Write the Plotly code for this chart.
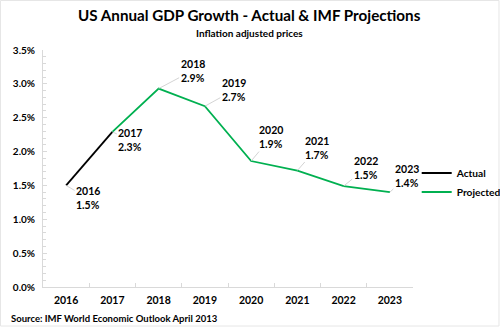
import plotly.graph_objects as go

years = ["2016", "2017", "2018", "2019", "2020", "2021", "2022", "2023"]
actual_years = ["2016", "2017"]
actual_vals = [1.50, 2.29]
proj_years = ["2017", "2018", "2019", "2020", "2021", "2022", "2023"]
proj_vals = [2.29, 2.93, 2.67, 1.86, 1.72, 1.49, 1.40]
label_vals = ["1.5%", "2.3%", "2.9%", "2.7%", "1.9%", "1.7%", "1.5%", "1.4%"]
all_vals = [1.50, 2.29, 2.93, 2.67, 1.86, 1.72, 1.49, 1.40]
label_offsets = [(22, 13), (18, 8), (34, -18), (29, -16), (20, -24), (20, -23), (22, -18), (17, -16)]

FONT = "Lato"
GREEN = "#00B050"

fig = go.Figure()
fig.add_trace(go.Scatter(x=proj_years, y=proj_vals, mode="lines", name="Projected",
                         line=dict(color=GREEN, width=1.8)))
fig.add_trace(go.Scatter(x=actual_years, y=actual_vals, mode="lines", name="Actual",
                         line=dict(color="black", width=1.8)))

annotations = []
for i, (yr, v, lab, (ax, ay)) in enumerate(zip(years, all_vals, label_vals, label_offsets)):
    annotations.append(dict(
        x=i, y=v, xref="x", yref="y", text=f"<b>{yr}<br>{lab}</b>", align="left",
        showarrow=True, arrowhead=0, arrowwidth=0.8, arrowcolor="#C8C8C8",
        ax=ax, ay=ay, standoff=0,
        font=dict(family=FONT, size=10.5, color="black")))

annotations.append(dict(text="<b>US Annual GDP Growth - Actual & IMF Projections</b>",
                        xref="paper", yref="paper", x=0.559, y=1, yanchor="middle", yshift=35,
                        showarrow=False, font=dict(family=FONT, size=15.2, color="black")))
annotations.append(dict(text="<b>Inflation adjusted prices</b>",
                        xref="paper", yref="paper", x=0.559, y=1, yanchor="middle", yshift=17,
                        showarrow=False, font=dict(family=FONT, size=10, color="black")))
annotations.append(dict(text="<b>Source: IMF World Economic Outlook April 2013</b>",
                        xref="paper", yref="paper", x=0, y=0, xanchor="left", yanchor="middle",
                        yshift=-31, xshift=-34,
                        showarrow=False, font=dict(family=FONT, size=9.5, color="black")))

fig.update_layout(
    width=500, height=327,
    margin=dict(l=43, r=87, t=50, b=40, autoexpand=False),
    paper_bgcolor="white", plot_bgcolor="white",
    font=dict(family=FONT, color="black"),
    showlegend=True,
    legend=dict(x=1.01, y=0.441, xanchor="left", yanchor="middle",
                traceorder="reversed", bgcolor="rgba(0,0,0,0)",
                font=dict(family=FONT, size=10.2, color="black", weight="bold"),
                itemwidth=30, tracegroupgap=0),
    annotations=annotations,
    xaxis=dict(type="category", categoryorder="array", categoryarray=years,
               range=[-0.5, 7.5], showgrid=False, showline=True, linecolor="#D9D9D9",
               linewidth=1, ticks="inside", ticklen=4, tickcolor="#D9D9D9",
               tickson="boundaries", ticklabelstandoff=3,
               tickfont=dict(family=FONT, size=10.5, color="black", weight="bold")),
    yaxis=dict(range=[0, 3.5], dtick=0.5, tickformat=".1f", ticksuffix="%",
               showgrid=False, showline=True, linecolor="#D9D9D9", linewidth=1,
               ticks="inside", ticklen=4, tickcolor="#D9D9D9", zeroline=False,
               ticklabelstandoff=5,
               minor=dict(dtick=0.1, ticks="inside", ticklen=3, tickcolor="#D9D9D9"),
               tickfont=dict(family=FONT, size=10, color="black", weight="bold")),
)

fig.add_shape(type="rect", xref="paper", yref="paper", x0=-0.1149, x1=1.2324,
              y0=-0.1646, y1=1.2089, line=dict(color="#E6E6E6", width=1))

fig.write_html("out.html")
